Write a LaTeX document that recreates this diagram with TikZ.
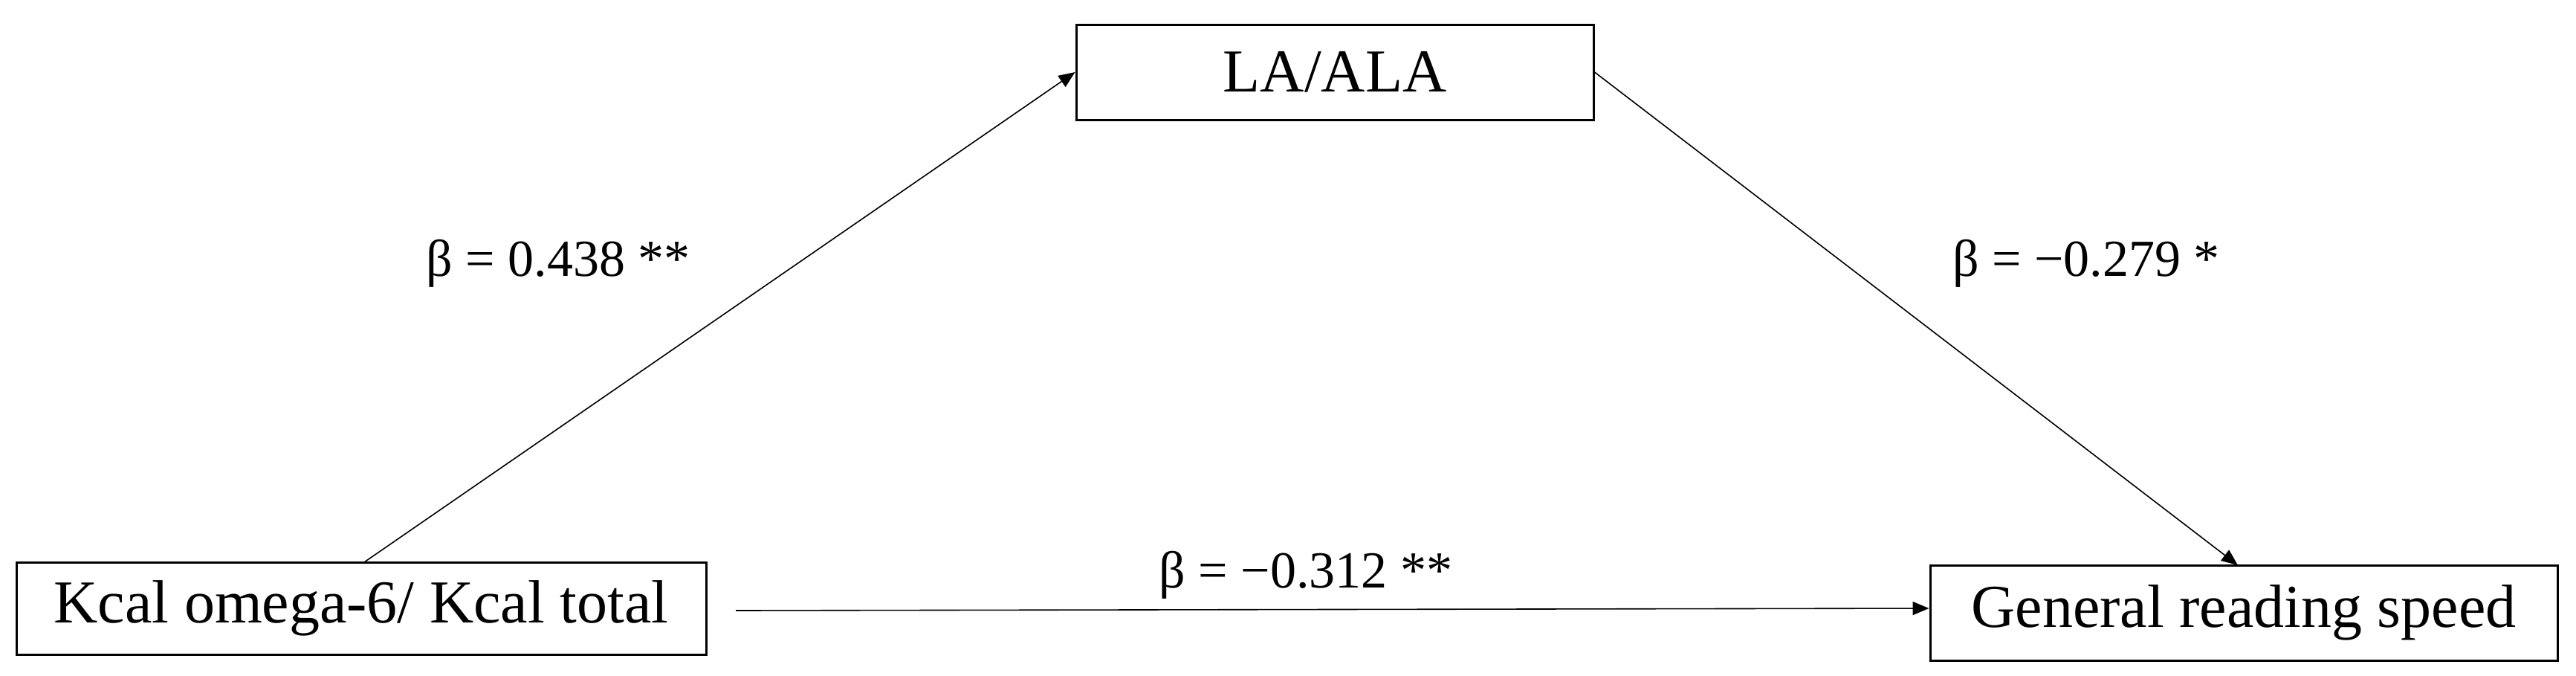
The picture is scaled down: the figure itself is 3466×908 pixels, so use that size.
\documentclass[tikz,border=0pt]{standalone}
\usepackage{fontspec}
\setmainfont{Liberation Serif}
\usetikzlibrary{arrows.meta}
\begin{document}
\begin{tikzpicture}[x=1pt,y=-1pt,
  box/.style={draw,line width=3pt,inner sep=0pt,font=\fontsize{82}{96}\selectfont},
  lbl/.style={font=\fontsize{70}{84}\selectfont},
  arr/.style={line width=1.6pt,-{Triangle[length=22pt,width=18pt]}}]
\useasboundingbox (0,0) rectangle (3466,908);
\node[box,minimum width=696pt,minimum height=128pt] (m) at (1796,97) {LA/ALA};
\node[box,minimum width=928pt,minimum height=124pt] (x) at (486,818) {Kcal omega-6/ Kcal total};
\node[box,minimum width=844pt,minimum height=128pt] (y) at (3019,824) {General reading speed};
\coordinate (a1) at (490,756);
\coordinate (b2) at (3011,760);
\coordinate (c1) at (990,821);
\draw[arr] (a1) -- (m.west);
\draw[arr] (m.east) -- (b2);
\draw[arr] (c1) -- (x.east -| y.west);
\node[lbl] (l1) at (751,354) {β = 0.438 **};
\node[lbl] (l2) at (2807,354) {β = −0.279 *};
\node[lbl] (l3) at (1757,773) {β = −0.312 **};
\end{tikzpicture}
\end{document}
